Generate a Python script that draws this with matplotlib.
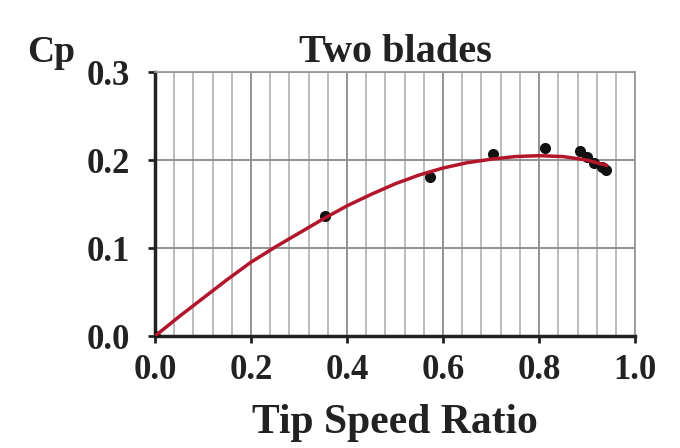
import matplotlib
matplotlib.use("Agg")
import matplotlib.pyplot as plt
from matplotlib.ticker import MultipleLocator

plt.rcParams['font.family'] = ['Liberation Serif', 'DejaVu Serif']
plt.rcParams['font.weight'] = 'bold'

# measured points (tip speed ratio, Cp)
tsr = [0.0, 0.355, 0.573, 0.703, 0.812, 0.885, 0.90, 0.915, 0.93, 0.94]
cp = [0.0, 0.136, 0.181, 0.207, 0.214, 0.210, 0.203, 0.197, 0.192, 0.189]

# trend curve
fit_x = [0.0, 0.05, 0.1, 0.15, 0.2, 0.25, 0.3, 0.35, 0.4, 0.45, 0.5,
         0.55, 0.6, 0.65, 0.7, 0.75, 0.8, 0.85, 0.9, 0.94]
fit_y = [0.0, 0.022, 0.043, 0.064, 0.084, 0.101, 0.117, 0.133, 0.148, 0.161, 0.173,
         0.183, 0.191, 0.197, 0.201, 0.204, 0.205, 0.204, 0.200, 0.194]

x_ticks = [0.0, 0.2, 0.4, 0.6, 0.8, 1.0]
y_ticks = [0.0, 0.1, 0.2, 0.3]

fig = plt.figure(figsize=(6.8, 4.48), dpi=100)
ax = fig.add_axes([0.228, 0.25, 0.706, 0.589])

ax.plot(tsr, cp, 'o', color='#111111', markersize=7, zorder=3)
ax.plot(fit_x, fit_y, '-', color='#b3152b', linewidth=2.5, zorder=4,
        solid_joinstyle='round')

ax.set_xlim(0, 1.0)
ax.set_ylim(0, 0.3)
ax.set_xticks(x_ticks)
ax.set_yticks(y_ticks)
ax.set_xticklabels(['%.1f' % v for v in x_ticks])
ax.set_yticklabels(['%.1f' % v for v in y_ticks])
ax.xaxis.set_minor_locator(MultipleLocator(0.04))

ax.grid(True, which='major', axis='both', color='#8a8a8a', linewidth=1.3)
ax.grid(True, which='minor', axis='x', color='#aaaaaa', linewidth=1.1)
ax.set_axisbelow(True)

for s in ['top', 'right']:
    ax.spines[s].set_color('#999999')
    ax.spines[s].set_linewidth(1.3)
for s in ['left', 'bottom']:
    ax.spines[s].set_color('#222222')
    ax.spines[s].set_linewidth(2.5)

ax.tick_params(which='major', length=5, width=2, color='#222222',
               labelsize=25, labelcolor='#222222')
ax.tick_params(axis='y', pad=13)
ax.tick_params(axis='x', pad=8)
ax.tick_params(which='minor', length=0)
for lbl in ax.get_xticklabels() + ax.get_yticklabels():
    lbl.set_fontweight('bold')

ax.set_title('Two blades', fontsize=29, fontweight='bold', color='#222222', pad=7)
ax.set_xlabel('Tip Speed Ratio', fontsize=30, fontweight='bold', color='#222222', labelpad=12)
fig.text(27 / 680, 1 - 62 / 448, 'Cp', fontsize=27, fontweight='bold',
         color='#222222', va='baseline', ha='left')

fig.savefig('out.png', dpi=100, facecolor='white')
